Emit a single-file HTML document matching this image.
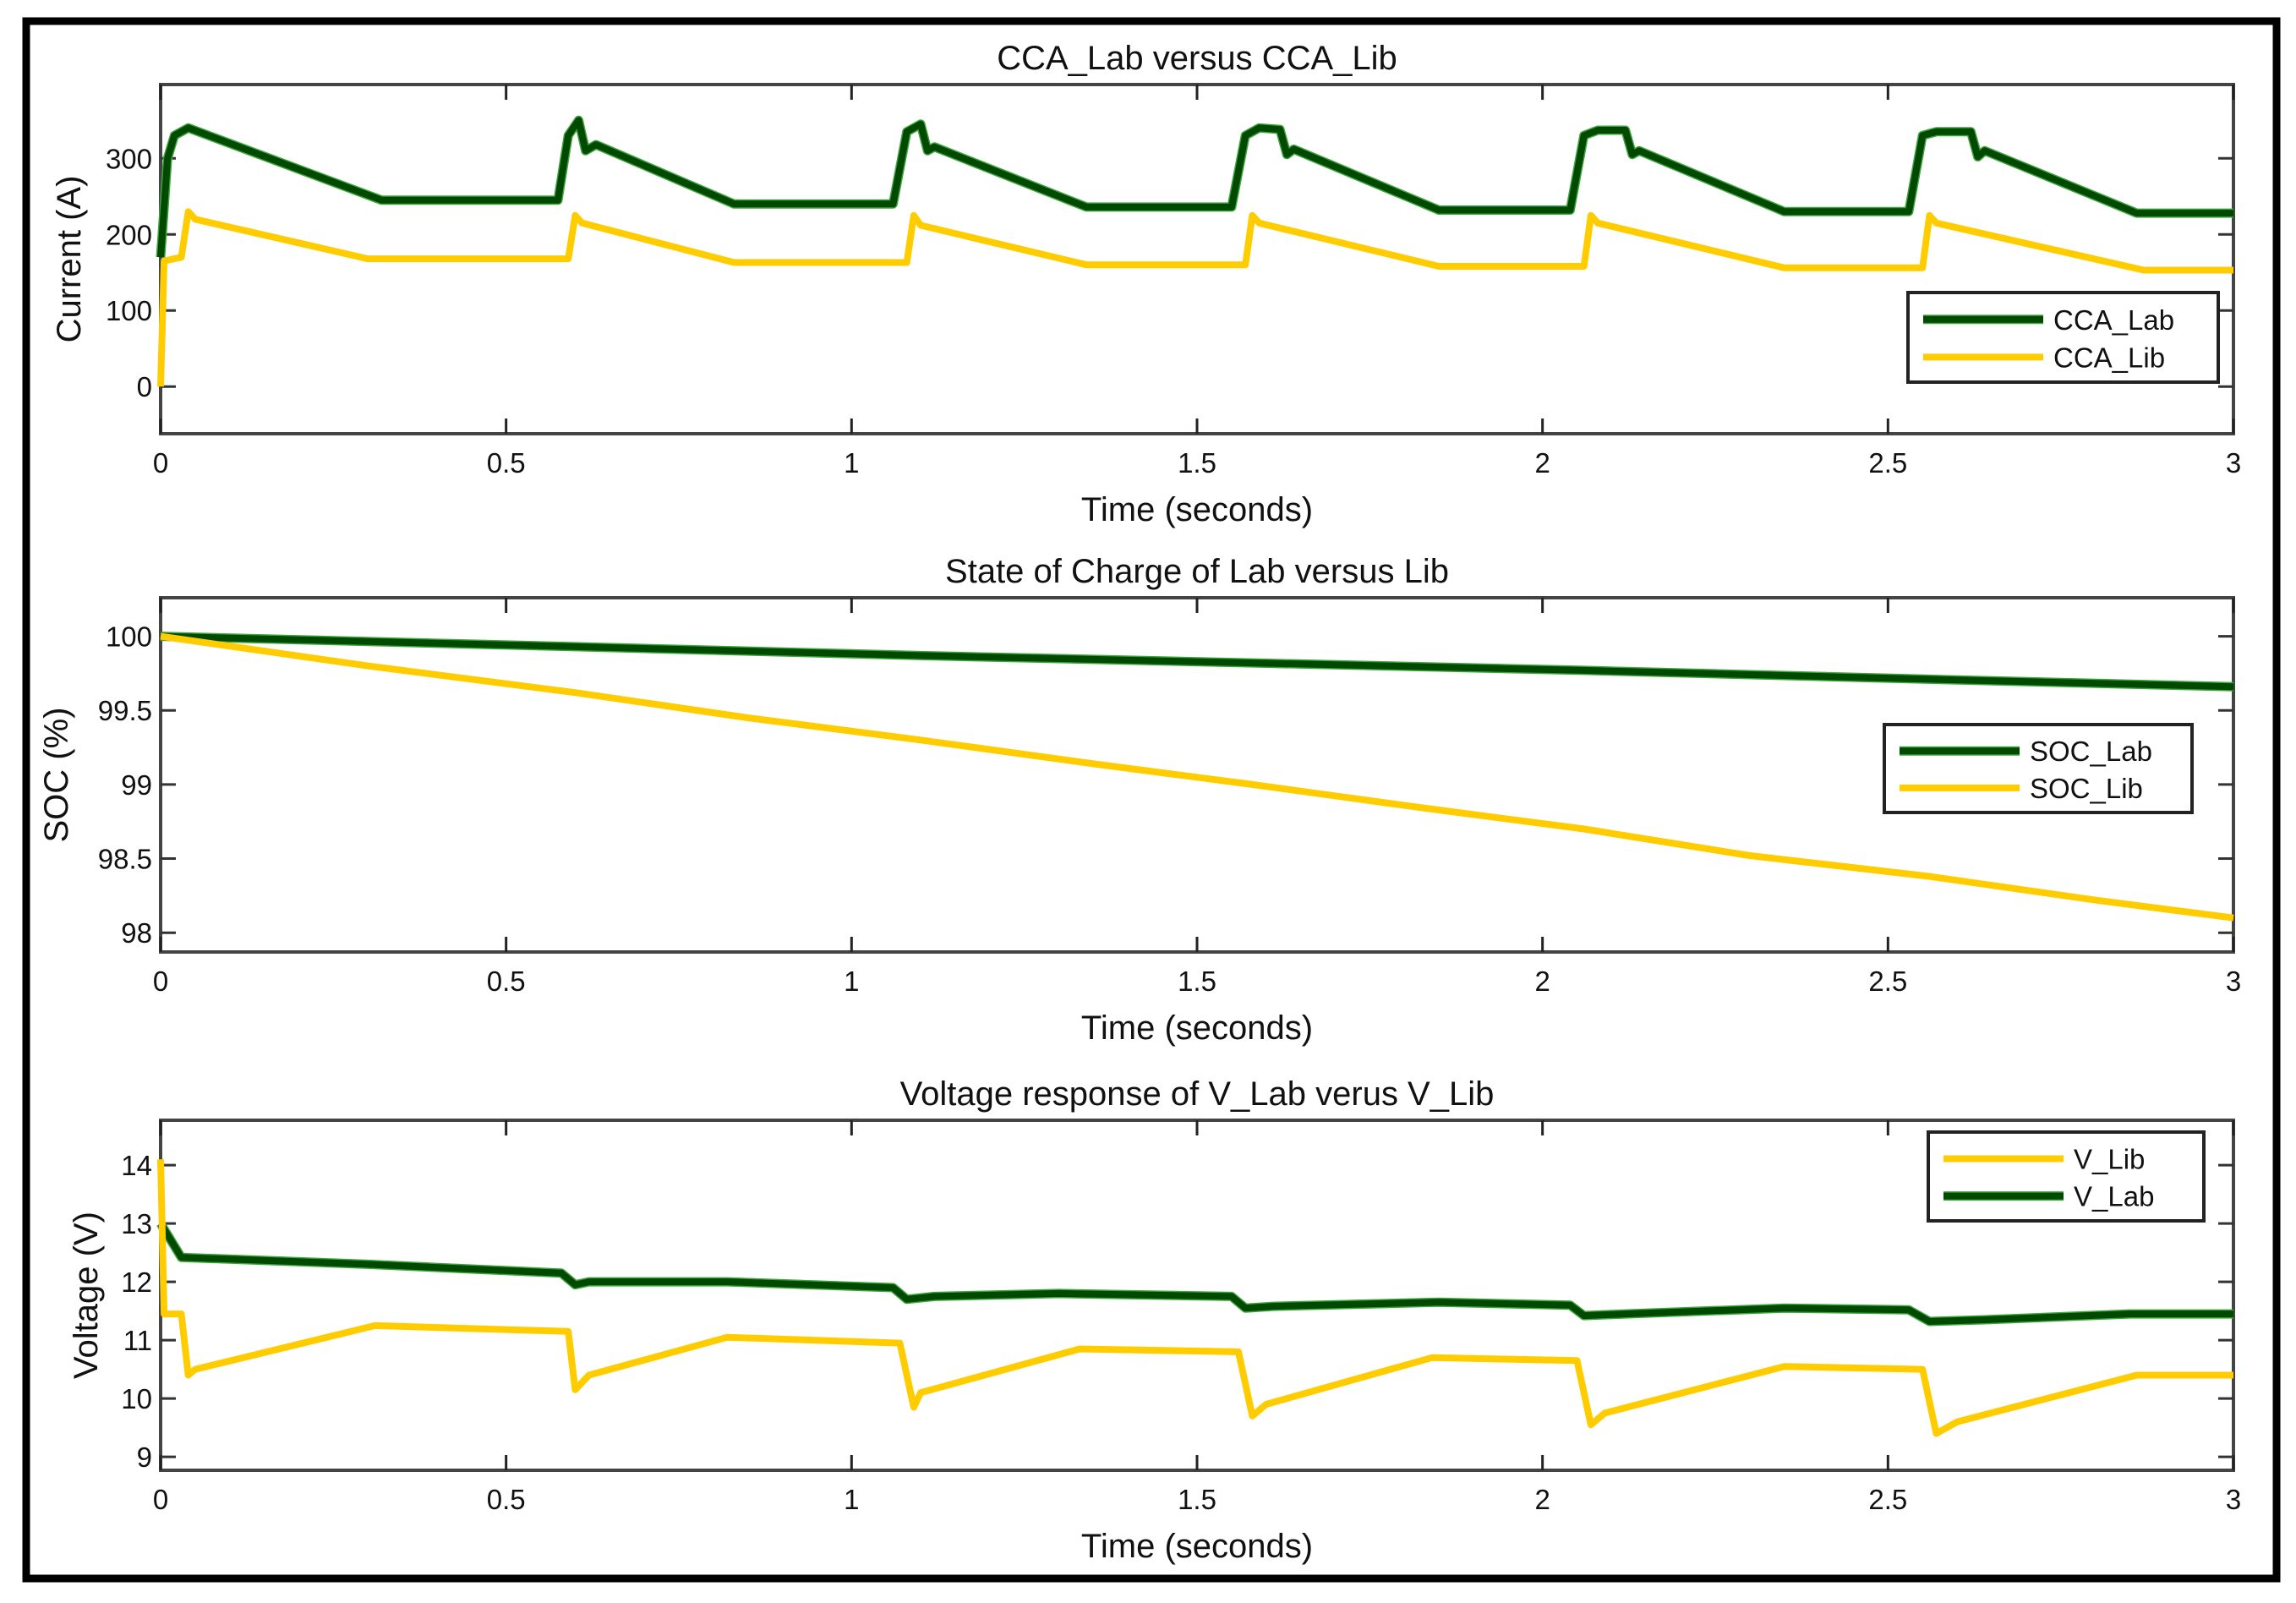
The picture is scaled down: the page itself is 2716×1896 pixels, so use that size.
<!DOCTYPE html>
<html><head><meta charset="utf-8"><style>
html,body{margin:0;padding:0;background:#fff;}
svg{display:block;font-family:"Liberation Sans",Arial,sans-serif;}
</style></head><body>
<svg id="fig" width="2716" height="1896" viewBox="0 0 2716 1896">
<rect x="31" y="25" width="2662" height="1842" fill="#fff" stroke="#000" stroke-width="9"/>
</svg>
<script>
const xTicks=[0,0.5,1,1.5,2,2.5,3];
const xTickLabels=["0","0.5","1","1.5","2","2.5","3"];
const curT=[0,0.01,0.02,0.04,0.32,0.575,0.59,0.605,0.615,0.63,0.83,1.06,1.08,1.1,1.11,1.12,1.34,1.55,1.57,1.59,1.62,1.63,1.64,1.85,2.04,2.06,2.08,2.12,2.13,2.14,2.35,2.53,2.55,2.57,2.62,2.63,2.64,2.86,3];
const ccaLab=[170,300,330,340,245,245,330,350,310,318,240,240,335,345,310,315,236,236,330,340,338,305,312,232,232,330,337,337,305,310,230,230,330,335,335,302,310,228,228];
const curLibT=[0,0.005,0.03,0.04,0.05,0.3,0.59,0.6,0.61,0.83,1.08,1.09,1.1,1.34,1.57,1.58,1.59,1.85,2.06,2.07,2.08,2.35,2.55,2.56,2.57,2.87,3];
const ccaLib=[0,165,170,230,220,168,168,225,215,163,163,225,212,160,160,225,215,158,158,225,215,156,156,225,215,153,153];
const socLabT=[0,0.6,1.1,1.58,2.06,2.56,3];
const socLab=[100,99.93,99.87,99.82,99.77,99.71,99.66];
const socLibT=[0,0.3,0.6,0.85,1.1,1.35,1.58,1.83,2.06,2.3,2.56,2.8,3];
const socLib=[100,99.8,99.62,99.45,99.3,99.14,99.0,98.84,98.7,98.52,98.38,98.22,98.1];
const vLabT=[0,0.03,0.3,0.58,0.6,0.62,0.82,1.06,1.08,1.12,1.3,1.55,1.57,1.61,1.85,2.04,2.06,2.12,2.35,2.53,2.56,2.64,2.85,3];
const vLab=[13,12.42,12.3,12.15,11.95,12.0,12.0,11.9,11.7,11.75,11.8,11.75,11.55,11.58,11.65,11.6,11.42,11.45,11.55,11.52,11.32,11.35,11.45,11.45];
const vLibT=[0,0.005,0.03,0.04,0.05,0.31,0.59,0.6,0.62,0.82,1.07,1.09,1.1,1.33,1.56,1.58,1.6,1.84,2.05,2.07,2.09,2.35,2.55,2.57,2.6,2.86,3];
const vLib=[14.1,11.45,11.45,10.4,10.5,11.25,11.15,10.15,10.4,11.05,10.95,9.85,10.1,10.85,10.8,9.7,9.9,10.7,10.65,9.55,9.75,10.55,10.5,9.4,9.6,10.4,10.4];
const yTicks1=[0,100,200,300], yTickLabels1=["0","100","200","300"];
const yTicks2=[98,98.5,99,99.5,100], yTickLabels2=["98","98.5","99","99.5","100"];
const yTicks3=[9,10,11,12,13,14], yTickLabels3=["9","10","11","12","13","14"];

const NS="http://www.w3.org/2000/svg";
const svg=document.getElementById('fig');
const X0=190,X1=2642;
const GREEN="#004a00",YEL="#ffcc00";
function mk(tag,attrs,parent){const e=document.createElementNS(NS,tag);for(const k in attrs)e.setAttribute(k,attrs[k]);(parent||svg).appendChild(e);return e;}
function xs(t){return X0+(t)/3*(X1-X0);}
function panel(p){
  const g=mk('g',{});
  
  
  const ys=v=>p.y0+(p.ymax-v)/(p.ymax-p.ymin)*(p.y1-p.y0);
  const bg=mk('rect',{x:X0,y:p.y0,width:X1-X0,height:p.y1-p.y0,fill:'#fff',stroke:'#444','stroke-width':4},g);
  
  
  xTicks.forEach((t,i)=>{
    const x=xs(t);
    mk('line',{x1:x,y1:p.y1,x2:x,y2:p.y1-18,stroke:'#222','stroke-width':3},g);
    mk('line',{x1:x,y1:p.y0,x2:x,y2:p.y0+18,stroke:'#222','stroke-width':3},g);
    const tx=mk('text',{x:x,y:p.y1+46,'font-size':33,'text-anchor':'middle',fill:'#111'},g);
    tx.textContent=xTickLabels[i];
    
    
  });
  p.yt.forEach((v,i)=>{
    const y=ys(v);
    mk('line',{x1:X0,y1:y,x2:X0+18,y2:y,stroke:'#333','stroke-width':3},g);
    mk('line',{x1:X1,y1:y,x2:X1-18,y2:y,stroke:'#333','stroke-width':3},g);
    const tx=mk('text',{x:X0-10,y:y+12,'font-size':33,'text-anchor':'end',fill:'#111'},g);
    tx.textContent=p.ytl[i];
    
    
  });
  const ti=mk('text',{x:(X0+X1)/2,y:p.y0-18,'font-size':40,'text-anchor':'middle',fill:'#111'},g);
  ti.textContent=p.title;
  
  
  const xl=mk('text',{x:(X0+X1)/2,y:p.y1+103,'font-size':40,'text-anchor':'middle',fill:'#111'},g);
  xl.textContent='Time (seconds)';
  
  
  const cy=(p.y0+p.y1)/2;
  const yl=mk('text',{x:p.ylx,y:cy,'font-size':40,'text-anchor':'middle',fill:'#111',transform:`rotate(-90 ${p.ylx} ${cy})`},g);
  yl.textContent=p.ylabel;
  
  
  p.series.forEach(s=>{
    const d=s.t.map((t,i)=>(i?'L':'M')+xs(t).toFixed(1)+','+ys(s.v[i]).toFixed(1)).join(' ');
    if(s.c===GREEN){mk('path',{d:d,fill:'none',stroke:'#3fa33f','stroke-width':11,'stroke-linejoin':'round'},g);}
    const pa=mk('path',{d:d,fill:'none',stroke:s.c,'stroke-width':8,'stroke-linejoin':'round'},g);
    
    
  });
  const L=p.leg;
  const lg=mk('g',{},g);
  
  
  mk('rect',{x:L[0],y:L[1],width:L[2]-L[0],height:L[3]-L[1],fill:'#fff',stroke:'#222','stroke-width':4},lg);
  p.legItems.forEach((it,i)=>{
    const y=L[1]+(L[3]-L[1])*(i===0?0.3:0.72);
    if(it.c===GREEN)mk('line',{x1:L[0]+18,y1:y,x2:L[0]+160,y2:y,stroke:'#3fa33f','stroke-width':11},lg);
    mk('line',{x1:L[0]+18,y1:y,x2:L[0]+160,y2:y,stroke:it.c,'stroke-width':8},lg);
    const tx=mk('text',{x:L[0]+172,y:y+12,'font-size':33,fill:'#111'},lg);
    tx.textContent=it.label;
    
    
  });
}
panel({name:'current-panel',y0:100,y1:513,ymin:-62,ymax:397,yt:yTicks1,ytl:yTickLabels1,title:'CCA_Lab versus CCA_Lib',ylabel:'Current (A)',ylx:95,
  series:[{t:curT,v:ccaLab,c:GREEN,name:'cca-lab-line'},{t:curLibT,v:ccaLib,c:YEL,name:'cca-lib-line'}],
  leg:[2257,346,2624,452],legItems:[{c:GREEN,label:'CCA_Lab'},{c:YEL,label:'CCA_Lib'}]});
panel({name:'soc-panel',y0:707,y1:1126,ymin:97.87,ymax:100.26,yt:yTicks2,ytl:yTickLabels2,title:'State of Charge of Lab versus Lib',ylabel:'SOC (%)',ylx:80,
  series:[{t:socLabT,v:socLab,c:GREEN,name:'soc-lab-line'},{t:socLibT,v:socLib,c:YEL,name:'soc-lib-line'}],
  leg:[2229,857,2593,961],legItems:[{c:GREEN,label:'SOC_Lab'},{c:YEL,label:'SOC_Lib'}]});
panel({name:'voltage-panel',y0:1325,y1:1739,ymin:8.77,ymax:14.77,yt:yTicks3,ytl:yTickLabels3,title:'Voltage response of V_Lab verus V_Lib',ylabel:'Voltage (V)',ylx:115,
  series:[{t:vLabT,v:vLab,c:GREEN,name:'v-lab-line'},{t:vLibT,v:vLib,c:YEL,name:'v-lib-line'}],
  leg:[2281,1339,2607,1444],legItems:[{c:YEL,label:'V_Lib'},{c:GREEN,label:'V_Lab'}]});
</script>
</body></html>
